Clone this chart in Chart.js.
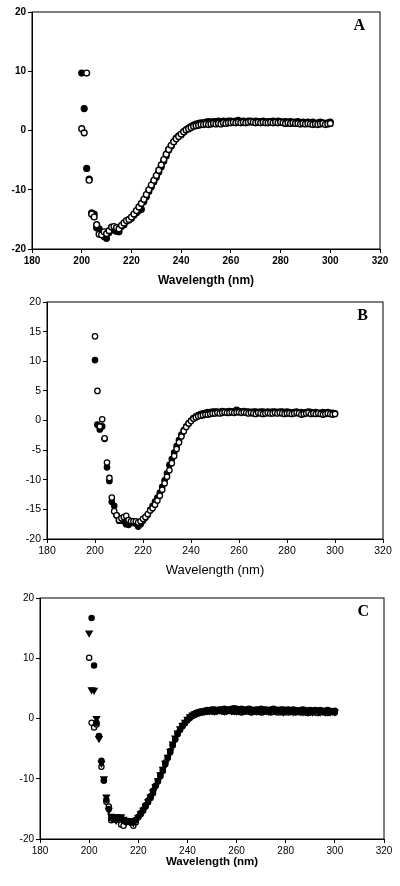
<!DOCTYPE html>
<html>
<head>
<meta charset="utf-8">
<script src="https://cdn.jsdelivr.net/npm/chart.js@4.4.0/dist/chart.umd.min.js"></script>
<style>
  html, body { margin: 0; background: #fff; }
  #wrap { position: relative; width: 400px; height: 886px; }
  canvas { position: absolute; left: 0; }
</style>
</head>
<body>
<div id="wrap">
  <canvas id="cA" width="400" height="292" style="top:0"></canvas>
  <canvas id="cB" width="400" height="290" style="top:290px"></canvas>
  <canvas id="cC" width="400" height="292" style="top:580px"></canvas>
</div>
<script>
/* CD spectra, 3 panels (A, B, C) — 200..300 nm, 1 nm step */

const wavelengths = [];
for (let w = 200; w <= 300; w++) wavelengths.push(w);

const xTicks = [180, 200, 220, 240, 260, 280, 300, 320];
const yTicksAC = [-20, -10, 0, 10, 20];
const yTicksB = [-20, -15, -10, -5, 0, 5, 10, 15, 20];

// ---- Panel A ----
const aFilled = [
  9.7, 3.7, -6.4, -8.2, -13.9, -14.1, -16.4, -16.6, -17.4, -17.9,
  -18.2, -17.2, -16.6, -16.8, -17.0, -17.1, -16.2, -15.9, -15.3, -15.1,
  -14.8, -14.3, -13.9, -13.5, -13.3, -12.0, -11.2, -10.3, -9.5, -8.7,
  -7.9, -7.0, -6.1, -5.2, -4.3, -3.3, -2.6, -1.9, -1.3, -0.9,
  -0.7, -0.3, 0.1, 0.4, 0.7, 0.9, 1.1, 1.2, 1.3, 1.3,
  1.4, 1.5, 1.4, 1.5, 1.5, 1.6, 1.5, 1.6, 1.5, 1.6,
  1.6, 1.5, 1.6, 1.7, 1.5, 1.6, 1.5, 1.6, 1.6, 1.5,
  1.6, 1.5, 1.5, 1.6, 1.4, 1.5, 1.5, 1.6, 1.5, 1.6,
  1.5, 1.4, 1.5, 1.4, 1.5, 1.4, 1.4, 1.5, 1.3, 1.4,
  1.3, 1.4, 1.3, 1.4, 1.2, 1.3, 1.4, 1.3, 1.2, 1.3,
  1.4
];
const aOpen = [
  0.3, -0.4, 9.7, -8.4, -14.1, -14.6, -15.9, -17.5, -17.6, -17.1,
  -17.4, -16.9, -16.3, -16.2, -16.4, -16.6, -16.0, -15.6, -15.2, -15.0,
  -14.6, -14.1, -13.5, -12.9, -12.3, -11.6, -10.8, -10.0, -9.2, -8.4,
  -7.6, -6.7, -5.8, -4.9, -4.0, -3.2, -2.5, -1.9, -1.4, -1.0,
  -0.6, -0.2, 0.1, 0.3, 0.5, 0.7, 0.8, 0.9, 1.0, 1.0,
  1.1, 1.0, 1.1, 1.2, 1.1, 1.2, 1.1, 1.3, 1.2, 1.3,
  1.3, 1.4, 1.3, 1.4, 1.3, 1.4, 1.3, 1.4, 1.5, 1.4,
  1.3, 1.4, 1.3, 1.4, 1.3, 1.3, 1.4, 1.3, 1.4, 1.3,
  1.4, 1.3, 1.2, 1.3, 1.2, 1.3, 1.2, 1.2, 1.1, 1.2,
  1.1, 1.2, 1.1, 1.0, 1.1, 1.0, 1.1, 1.2, 1.0, 1.1,
  1.2
];

// ---- Panel B ----
const bFilled = [
  10.2, -0.7, -1.5, -1.0, -3.1, -7.9, -10.2, -13.7, -14.4, -16.0,
  -16.9, -16.7, -17.0, -17.5, -17.6, -17.2, -17.3, -17.4, -17.9, -17.5,
  -16.9, -16.4, -15.9, -15.1, -14.4, -13.7, -13.0, -12.2, -11.2, -10.1,
  -8.9, -7.5, -6.5, -5.4, -4.3, -3.3, -2.4, -1.6, -1.0, -0.5,
  0.0, 0.4, 0.7, 0.9, 1.1, 1.2, 1.3, 1.4, 1.4, 1.5,
  1.5, 1.5, 1.4, 1.6, 1.5, 1.5, 1.6, 1.5, 1.6, 1.8,
  1.6, 1.5, 1.6, 1.5, 1.5, 1.4, 1.5, 1.5, 1.4, 1.5,
  1.5, 1.4, 1.5, 1.4, 1.5, 1.5, 1.4, 1.5, 1.5, 1.4,
  1.5, 1.4, 1.3, 1.4, 1.5, 1.3, 1.4, 1.3, 1.4, 1.5,
  1.4, 1.3, 1.4, 1.3, 1.3, 1.4, 1.3, 1.4, 1.3, 1.3,
  1.2
];
const bOpen = [
  14.2, 5.0, -1.0, 0.2, -3.0, -7.1, -9.7, -13.0, -15.3, -16.0,
  -16.8, -16.5, -16.3, -16.1, -16.8, -17.0, -17.0, -17.0, -17.2, -17.0,
  -16.6, -16.3, -15.8, -15.2, -14.8, -14.2, -13.5, -12.7, -11.7, -10.6,
  -9.5, -8.4, -7.2, -6.0, -4.8, -3.7, -2.7, -1.8, -1.1, -0.5,
  -0.1, 0.3, 0.5, 0.7, 0.8, 0.9, 1.0, 1.0, 1.1, 1.2,
  1.2, 1.3, 1.2, 1.3, 1.4, 1.3, 1.3, 1.4, 1.3, 1.4,
  1.4, 1.3, 1.4, 1.3, 1.2, 1.3, 1.2, 1.1, 1.3, 1.2,
  1.1, 1.2, 1.3, 1.2, 1.2, 1.3, 1.2, 1.3, 1.2, 1.1,
  1.2, 1.2, 1.1, 1.2, 1.3, 1.2, 1.0, 1.1, 1.2, 1.3,
  1.1, 1.2, 1.1, 1.2, 1.1, 1.0, 1.1, 1.2, 1.1, 1.0,
  1.1
];

// ---- Panel C ----
const cFilled = [
  null, 16.7, 8.8, -0.7, -3.0, -7.0, -10.3, -13.5, -15.0, -16.5,
  -16.8, -16.6, -16.4, -16.5, -16.9, -17.0, -17.1, -17.2, -17.0, -16.8,
  -16.3, -15.7, -15.1, -14.4, -13.6, -12.9, -12.0, -11.2, -10.4, -9.6,
  -8.7, -7.6, -6.5, -5.4, -4.4, -3.4, -2.5, -1.8, -1.2, -0.7,
  -0.2, 0.2, 0.5, 0.8, 1.0, 1.1, 1.2, 1.3, 1.4, 1.4,
  1.5, 1.5, 1.4, 1.5, 1.5, 1.6, 1.5, 1.5, 1.6, 1.7,
  1.6, 1.5, 1.6, 1.5, 1.5, 1.6, 1.5, 1.4, 1.5, 1.5,
  1.6, 1.5, 1.5, 1.4, 1.5, 1.6, 1.5, 1.4, 1.5, 1.5,
  1.4, 1.5, 1.4, 1.5, 1.4, 1.3, 1.4, 1.5, 1.4, 1.3,
  1.4, 1.3, 1.4, 1.3, 1.4, 1.3, 1.3, 1.4, 1.3, 1.2,
  1.3
];
const cTri = [
  14.2, 4.8, 4.7, 0.0, -3.3, -7.4, -10.0, -13.0, -15.2, -16.2,
  -16.6, -16.9, -16.5, -16.3, -16.7, -17.0, -16.9, -17.1, -17.3, -16.9,
  -16.4, -15.8, -15.2, -14.5, -13.8, -13.0, -12.2, -11.3, -10.3, -9.3,
  -8.4, -7.4, -6.4, -5.4, -4.2, -3.2, -2.4, -1.7, -1.1, -0.6,
  -0.1, 0.3, 0.6, 0.8, 1.0, 1.1, 1.2, 1.2, 1.3, 1.3,
  1.3, 1.2, 1.3, 1.4, 1.3, 1.2, 1.3, 1.4, 1.3, 1.3,
  1.2, 1.3, 1.2, 1.3, 1.4, 1.3, 1.2, 1.3, 1.2, 1.3,
  1.3, 1.2, 1.3, 1.2, 1.3, 1.4, 1.2, 1.3, 1.2, 1.1,
  1.2, 1.3, 1.2, 1.1, 1.2, 1.3, 1.2, 1.1, 1.2, 1.1,
  1.2, 1.1, 1.2, 1.3, 1.1, 1.2, 1.1, 1.2, 1.1, 1.2,
  1.1
];
const cOpen = [
  10.1, -0.7, -1.5, -1.0, -2.9, -8.0, -10.3, -13.8, -14.6, -16.9,
  -16.6, -16.4, -16.8, -17.6, -17.8, -17.2, -17.0, -17.3, -17.8, -17.2,
  -16.4, -15.9, -15.3, -14.6, -13.9, -13.2, -12.4, -11.2, -10.4, -9.4,
  -8.5, -7.3, -6.5, -5.6, -4.5, -3.5, -2.6, -1.9, -1.3, -0.8,
  -0.3, 0.1, 0.4, 0.6, 0.8, 0.9, 1.0, 1.1, 1.1, 1.2,
  1.2, 1.1, 1.2, 1.3, 1.2, 1.1, 1.2, 1.3, 1.2, 1.1,
  1.2, 1.1, 1.0, 1.1, 1.2, 1.1, 1.0, 1.1, 1.2, 1.1,
  1.0, 1.1, 1.2, 1.1, 1.0, 1.1, 1.2, 1.0, 1.1, 1.0,
  1.1, 1.0, 1.1, 1.2, 1.0, 1.1, 1.0, 1.1, 1.0, 0.9,
  1.0, 1.1, 1.0, 0.9, 1.0, 1.1, 1.0, 0.9, 1.0, 1.1,
  1.0
];

// Chart area frame + panel letter (top-right corner)
const framePlugin = {
  id: 'frame',
  afterDraw(chart, args, o) {
    const { ctx, chartArea: a } = chart;
    ctx.save();
    ctx.strokeStyle = '#000';
    ctx.lineWidth = 1;
    ctx.strokeRect(a.left, a.top, a.right - a.left, a.bottom - a.top);
    ctx.fillStyle = '#000';
    ctx.font = 'bold 16px "Liberation Serif", serif';
    ctx.textAlign = 'right';
    ctx.textBaseline = 'middle';
    ctx.fillText(o.letter, a.right - 15, a.top + 14);
    ctx.restore();
  }
};

function pts(ys) { return wavelengths.map((w, i) => ({ x: w, y: ys[i] })); }

function series(ys, kind, r, bw) {
  return {
    data: pts(ys),
    pointStyle: kind === 'tri' ? 'triangle' : 'circle',
    rotation: kind === 'tri' ? 180 : 0,
    pointRadius: kind === 'tri' ? r + 0.9 : r,
    backgroundColor: kind === 'open' ? '#fff' : '#000',
    borderColor: '#000',
    borderWidth: bw,
    showLine: false
  };
}

function panel(id, c) {
  const tickFont = { family: '"Liberation Sans", Arial, sans-serif', size: c.tickSize, weight: c.tickWeight };
  return new Chart(document.getElementById(id), {
    type: 'scatter',
    data: { datasets: c.datasets },
    options: {
      responsive: false,
      animation: false,
      events: [],
      layout: { padding: { top: c.top, right: c.right, left: 0, bottom: 0 } },
      plugins: { legend: { display: false }, tooltip: { enabled: false }, frame: { letter: c.letter } },
      scales: {
        x: {
          type: 'linear', min: 180, max: 320,
          afterBuildTicks: s => { s.ticks = xTicks.map(v => ({ value: v })); },
          afterFit: s => { s.height = c.xh; },
          grid: { drawOnChartArea: false, color: '#000', tickLength: 4 },
          border: { color: '#000' },
          ticks: { color: '#000', font: tickFont, padding: 2, maxRotation: 0 },
          title: {
            display: true, text: 'Wavelength (nm)', color: '#000',
            font: { family: '"Liberation Sans", Arial, sans-serif', size: c.titleSize, weight: c.titleWeight },
            padding: { top: 0, bottom: c.titlePad }
          }
        },
        y: {
          min: -20, max: 20,
          afterBuildTicks: s => { s.ticks = c.yTicks.map(v => ({ value: v })); },
          afterFit: s => { s.width = c.left; },
          grid: { drawOnChartArea: false, color: '#000', tickLength: 4 },
          border: { color: '#000' },
          ticks: { color: '#000', font: tickFont, padding: 2 }
        }
      }
    },
    plugins: [framePlugin]
  });
}

panel('cA', {
  letter: 'A', top: 12, right: 20, left: 32, xh: 43, yTicks: yTicksAC,
  tickSize: 10, tickWeight: 'bold', titleSize: 12, titleWeight: 'bold', titlePad: 4,
  datasets: [series(aOpen, 'open', 2.9, 1.4), series(aFilled, 'filled', 2.9, 1.4)]
});

panel('cB', {
  letter: 'B', top: 12, right: 17, left: 47, xh: 41, yTicks: yTicksB,
  tickSize: 10.5, tickWeight: 'normal', titleSize: 13, titleWeight: 'normal', titlePad: 2,
  datasets: [series(bOpen, 'open', 2.7, 1.3), series(bFilled, 'filled', 2.7, 1.3)]
});

panel('cC', {
  letter: 'C', top: 18, right: 16, left: 40, xh: 33, yTicks: yTicksAC,
  tickSize: 10, tickWeight: 'normal', titleSize: 11.5, titleWeight: 'bold', titlePad: 3,
  datasets: [series(cFilled, 'filled', 2.6, 1.3), series(cTri, 'tri', 2.6, 1.3), series(cOpen, 'open', 2.6, 1.3)]
});
</script>
</body>
</html>
